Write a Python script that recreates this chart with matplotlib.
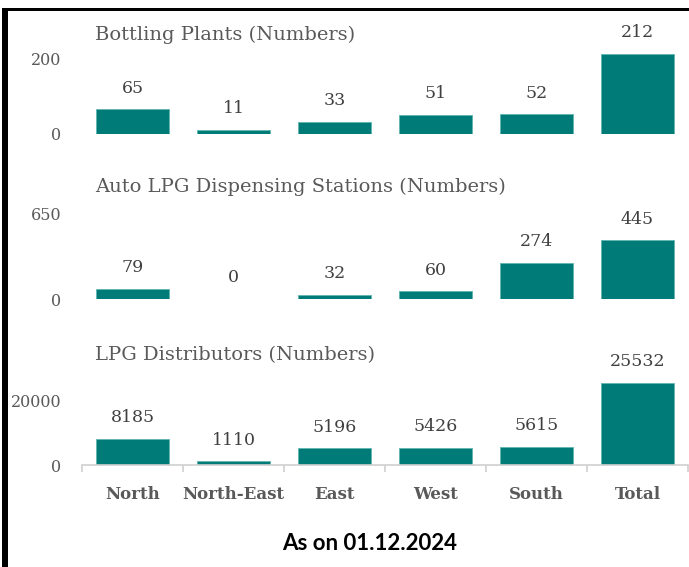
import matplotlib.pyplot as plt
from matplotlib.patches import Rectangle

W, H = 689, 567

regions = ["North", "North-East", "East", "West", "South", "Total"]
bottling = [65, 11, 33, 51, 52, 212]
auto_lpg = [79, 0, 32, 60, 274, 445]
distributors = [8185, 1110, 5196, 5426, 5615, 25532]

titles = ["Bottling Plants (Numbers)",
          "Auto LPG Dispensing Stations (Numbers)",
          "LPG Distributors (Numbers)"]
series = [bottling, auto_lpg, distributors]
yticks = [[0, 200], [0, 650], [0, 20000]]
ytops = [240, 650, 25532]

teal = "#007B78"
grey = "#595959"
serif = ["DejaVu Serif"]

fig = plt.figure(figsize=(W / 100, H / 100), dpi=100)


def box(x0, y0, x1, y1):
    # pixel box (top-left origin) -> figure fraction rect
    return [x0 / W, 1 - y1 / H, (x1 - x0) / W, (y1 - y0) / H]


# panel geometry in pixels: (zero line y, pixel height of ylim top, title y)
panels = [(134, 240 * 0.3774, 35), (299, 86, 187), (465, 82, 355)]

for i, (y0, hpx, ty) in enumerate(panels):
    ax = fig.add_axes(box(82, y0 - hpx, 688, y0))
    x = range(len(regions))
    ax.bar(x, series[i], width=0.715, color=teal, edgecolor="#5fb5b0", linewidth=0.6)
    ax.set_xlim(-0.5, 5.5)
    ax.set_ylim(0, ytops[i])
    ax.set_yticks(yticks[i])
    ax.set_yticklabels([str(t) for t in yticks[i]], family=serif, fontsize=11.5, color=grey)
    ax.tick_params(axis="y", length=0, pad=15)
    for s in ["top", "right", "left"]:
        ax.spines[s].set_visible(False)
    for xi, v in zip(x, series[i]):
        ax.annotate(str(v), (xi, v), xytext=(0, 9), textcoords="offset points",
                    ha="center", va="bottom", family=serif, fontsize=12.5,
                    color="#404040", annotation_clip=False)
    fig.text(95 / W, 1 - ty / H, titles[i], family=serif, fontsize=14,
             color=grey, va="center", ha="left")
    if i < 2:
        ax.spines["bottom"].set_visible(False)
        ax.set_xticks([])
    else:
        ax.spines["bottom"].set_color("#d0d0d0")
        ax.spines["bottom"].set_linewidth(1.2)
        ax.set_xticks(x)
        ax.set_xticklabels(regions, family=serif, fontsize=12, fontweight="bold", color=grey)
        ax.set_xticks([k - 0.5 for k in range(7)], minor=True)
        ax.tick_params(axis="x", which="major", length=0, pad=15)
        ax.tick_params(axis="x", which="minor", length=5, color="#d0d0d0", width=1.2)

fig.text(370 / W, 1 - 543 / H, "As on 01.12.2024", family=["Lato", "DejaVu Sans"],
         fontsize=16, fontweight="bold", color="black", ha="center", va="center")

# frame lines
fig.add_artist(Rectangle((2 / W, 0), 6 / W, 1 - 8 / H, transform=fig.transFigure,
                         color="black", lw=0))
fig.add_artist(Rectangle((2 / W, 1 - 11 / H), 1, 3 / H, transform=fig.transFigure,
                         color="black", lw=0))

fig.savefig("out.png", dpi=100)
